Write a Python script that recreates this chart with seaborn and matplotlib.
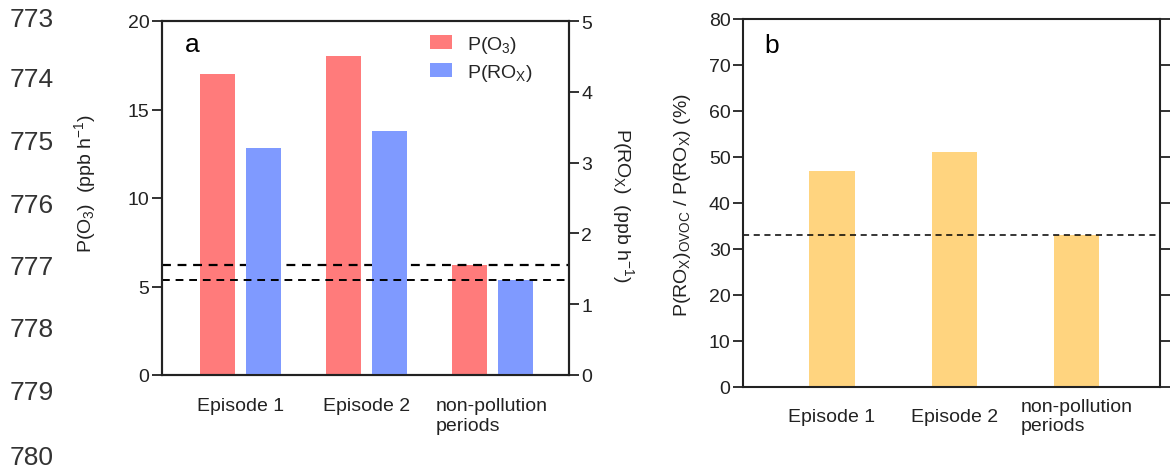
import matplotlib
matplotlib.use("Agg")
import matplotlib.pyplot as plt
import seaborn as sns
import pandas as pd
from matplotlib.patches import Patch

# ---- data ----
categories = ["Episode 1", "Episode 2", "non-pollution\nperiods"]
p_o3 = [17.0, 18.0, 6.2]          # ppb h-1 (left axis)
p_rox = [3.2, 3.45, 1.34]         # ppb h-1 (right axis)
ratio_ovoc = [47.0, 51.0, 33.0]   # %
left_ticks = [0, 5, 10, 15, 20]
right_ticks = [0, 1, 2, 3, 4, 5]
b_ticks = [0, 10, 20, 30, 40, 50, 60, 70, 80]
line_numbers = ["773", "774", "775", "776", "777", "778", "779", "780"]
line_number_y = [20, 80, 143, 206, 268, 330, 393, 458]

sns.set_theme(style="white")
plt.rcParams["font.family"] = ["Liberation Sans", "DejaVu Sans"]
plt.rcParams["mathtext.fontset"] = "custom"
plt.rcParams["mathtext.rm"] = "Liberation Sans"
plt.rcParams["mathtext.it"] = "Liberation Sans"

W, H = 1171, 477
fig = plt.figure(figsize=(W / 100, H / 100), dpi=100)
fig.patch.set_facecolor("white")

c_o3 = "#FF7B7B"
c_rox = "#7F9AFF"
c_b = "#FFD47F"
ink = "#222222"

lab_o3 = "P(O$_3$)"
lab_rox = "P(RO$_X$)"
palette = {lab_o3: c_o3, lab_rox: c_rox}
hue_order = [lab_o3, lab_rox]

df_o3 = pd.DataFrame({"period": categories, "value": p_o3, "series": lab_o3})
df_rox = pd.DataFrame({"period": categories, "value": p_rox, "series": lab_rox})
df_b = pd.DataFrame({"period": categories, "value": ratio_ovoc})

def px_axes(l, r, t, b):
    return fig.add_axes([l / W, 1 - b / H, (r - l) / W, (b - t) / H])

# ---------- panel a ----------
ax = px_axes(162, 569, 22, 376)
ax2 = ax.twinx()
sns.barplot(data=df_o3, x="period", y="value", hue="series", hue_order=hue_order,
            palette=palette, order=categories, width=0.73, gap=0.24, dodge=True,
            saturation=1, linewidth=0, ax=ax, legend=False)
sns.barplot(data=df_rox, x="period", y="value", hue="series", hue_order=hue_order,
            palette=palette, order=categories, width=0.73, gap=0.24, dodge=True,
            saturation=1, linewidth=0, ax=ax2, legend=False)
ax.set_ylim(0, 20)
ax2.set_ylim(0, 5)
ax.set_xlim(-0.62, 2.61)
ax.set_yticks(left_ticks)
ax2.set_yticks(right_ticks)
ax.axhline(p_o3[2], color="black", lw=1.6, ls=(0, (4, 3)))
ax2.axhline(p_rox[2], color="black", lw=1.4, ls=(0, (4, 3)))

ax.set_xlabel("")
ax2.set_xlabel("")
ax.set_ylabel("P(O$_3$)  (ppb h$^{-1}$)", fontsize=14, color=ink)
ax.yaxis.set_label_coords(-0.158, 0.545)
ax2.set_ylabel("P(RO$_X$)  (ppb h$^{-1}$)", fontsize=14, color=ink, rotation=270,
               va="center")
ax2.yaxis.set_label_coords(1.133, 0.483)

for a in (ax, ax2):
    for s in a.spines.values():
        s.set_visible(True)
        s.set_color(ink)
        s.set_linewidth(1.5)
ax.tick_params(axis="y", direction="out", length=7, width=1.3, colors=ink,
               labelsize=14, left=True, pad=2)
ax2.tick_params(axis="y", direction="out", length=7, width=1.3, colors=ink,
                labelsize=14, right=True, pad=2)
ax.tick_params(axis="x", length=0, labelsize=14, labelcolor=ink, pad=16)
ax.set_xticks(range(len(categories)))
ax.set_xticklabels(categories)
for t in ax.get_xticklabels():
    t.set_multialignment("left")

ax.text(0.055, 0.935, "a", transform=ax.transAxes, fontsize=19, color="black",
        va="center", ha="left")
handles = [Patch(facecolor=c_o3, edgecolor="none"), Patch(facecolor=c_rox, edgecolor="none")]
ax.legend(handles, hue_order, loc="upper left", bbox_to_anchor=(0.64, 0.985),
          frameon=False, fontsize=14, handlelength=1.1, handleheight=0.7,
          handletextpad=0.8, labelspacing=0.35, borderaxespad=0)

# ---------- panel b ----------
bx = px_axes(743, 1160, 20, 388)
sns.barplot(data=df_b, x="period", y="value", order=categories, color=c_b,
            width=0.37, saturation=1, linewidth=0, ax=bx)
bx.set_ylim(0, 80)
bx.set_xlim(-0.727, 2.68)
bx.set_yticks(b_ticks)
bx.axhline(ratio_ovoc[2], color="black", lw=1.1, ls=(0, (4, 3)))
bx.set_xlabel("")
bx.set_ylabel("P(RO$_X$)$_{\\rm OVOC}$ / P(RO$_X$) (%)", fontsize=14, color=ink)
bx.yaxis.set_label_coords(-0.12, 0.497)
for s in bx.spines.values():
    s.set_visible(True)
    s.set_color(ink)
    s.set_linewidth(1.5)
bx.tick_params(axis="y", direction="out", length=7, width=1.3, colors=ink,
               labelsize=14, left=True, right=True, pad=2)
bx.tick_params(axis="x", length=0, labelsize=14, labelcolor=ink, pad=21)
bx.set_xticks(range(len(categories)))
bx.set_xticklabels(categories)
for t in bx.get_xticklabels():
    t.set_multialignment("left")
    t.set_va("center")
bx.text(0.05, 0.93, "b", transform=bx.transAxes, fontsize=19, color="black",
        va="center", ha="left")

# ---------- manuscript line numbers ----------
for s, y in zip(line_numbers, line_number_y):
    fig.text(10 / W, 1 - y / H, s, fontsize=19, color="#333333", ha="left",
             va="center")

fig.savefig("out.png", dpi=100, facecolor="white")
